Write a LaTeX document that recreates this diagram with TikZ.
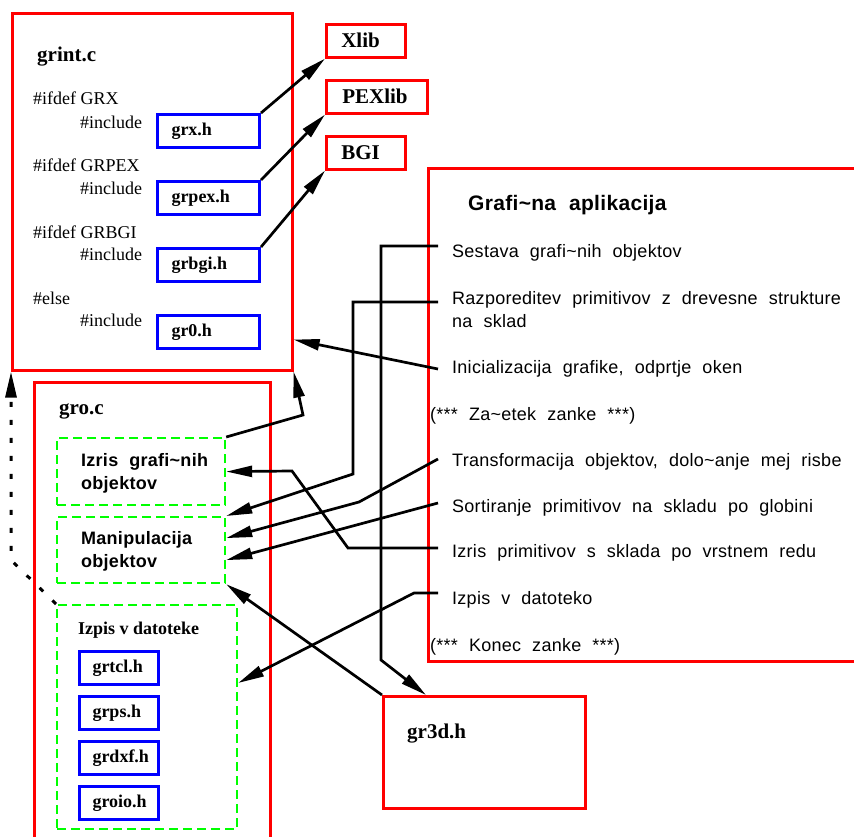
\documentclass[tikz,border=0pt]{standalone}
\usepackage{fontspec}
\setmainfont{Liberation Serif}
\newfontfamily\appfont[WordSpace=2.1,LetterSpace=1.5]{Liberation Sans}
\usepackage{tikz}
\usetikzlibrary{arrows.meta}
\usepackage{xcolor}

\begin{document}
\begin{tikzpicture}[x=1pt,y=-1pt,
    redbox/.style={draw=red, line width=2.6pt, anchor=north west, inner sep=0pt},
    libbox/.style={draw=red, line width=2.6pt, anchor=north west, minimum height=33pt, align=left, font=\fontsize{21}{24}\selectfont\bfseries},
    filebox/.style={draw=blue, line width=3pt, anchor=north west, minimum height=33pt, align=left, font=\fontsize{18}{20}\selectfont\bfseries},
    partbox/.style={draw=green, line width=2.2pt, dash pattern=on 9pt off 5pt, anchor=north west, inner sep=0pt},
    code/.style={anchor=base west, inner sep=0pt, font=\fontsize{18}{20}\selectfont},
    title/.style={anchor=base west, inner sep=0pt, font=\fontsize{21}{24}\selectfont\bfseries},
    apptext/.style={anchor=base west, inner sep=0pt, align=left, font=\appfont\fontsize{18}{22.4}\selectfont},
    parttext/.style={anchor=base west, inner sep=0pt, align=left, font=\appfont\bfseries\fontsize{18}{23}\selectfont},
    link/.style={line width=2.7pt, -{Triangle[length=26pt,width=11pt]}},
    dotted link/.style={line width=3pt, dash pattern=on 5pt off 13pt, -{Triangle[length=26pt,width=11pt]}},
]
    \useasboundingbox (0,0) rectangle (854,836);
    \clip (0,0) rectangle (854,836);

    \node[redbox, minimum width=280pt, minimum height=357pt] (grint) at (11,12) {};
    \node[redbox, minimum width=236pt, minimum height=480pt] (gro) at (33,381) {};
    \node[redbox, minimum width=460pt, minimum height=493pt] (app) at (427,167) {};
    \node[redbox, minimum width=202pt, minimum height=112pt] (gr3d) at (382,695) {};

    \node[libbox, text width=49pt, inner xsep=15pt] (xlib) at (325,23) {Xlib};
    \node[libbox, text width=69pt, inner xsep=16pt] (pexlib) at (325,79) {PEXlib};
    \node[libbox, text width=49pt, inner xsep=15pt] (bgi) at (325,135) {BGI};

    \node[title] (grinttitle) at (37,61) {grint.c};
    \node[code] (ifgrx) at (33,104) {\#ifdef GRX};
    \node[code] (incgrx) at (80,128) {\#include};
    \node[code] (ifgrpex) at (33,171) {\#ifdef GRPEX};
    \node[code] (incgrpex) at (80,194) {\#include};
    \node[code] (ifgrbgi) at (33,238) {\#ifdef GRBGI};
    \node[code] (incgrbgi) at (80,260) {\#include};
    \node[code] (ifelse) at (33,304) {\#else};
    \node[code] (incgr0) at (80,326) {\#include};

    \node[filebox, text width=74pt, inner xsep=14pt] (grx) at (156,113) {grx.h};
    \node[filebox, text width=74pt, inner xsep=14pt] (grpex) at (156,180) {grpex.h};
    \node[filebox, text width=74pt, inner xsep=14pt] (grbgi) at (156,247) {grbgi.h};
    \node[filebox, text width=74pt, inner xsep=14pt] (gr0) at (156,314) {gr0.h};

    \node[title] (grotitle) at (59,414) {gro.c};
    \node[partbox, minimum width=168pt, minimum height=67pt] (izris) at (56,437) {};
    \node[partbox, minimum width=168pt, minimum height=66pt] (manip) at (56,516) {};
    \node[partbox, minimum width=180pt, minimum height=224pt] (izpis) at (56,604) {};
    \node[parttext] (izristext) at (81,489) {Izris grafi\textasciitilde nih\\objektov};
    \node[parttext] (maniptext) at (81,567) {Manipulacija\\objektov};
    \node[code, font=\fontsize{18}{20}\selectfont\bfseries] (izpistext) at (78,634) {Izpis v datoteke};

    \node[filebox, text width=53pt, inner xsep=13pt] (grtcl) at (78,650) {grtcl.h};
    \node[filebox, text width=53pt, inner xsep=13pt] (grps) at (78,695) {grps.h};
    \node[filebox, text width=53pt, inner xsep=13pt] (grdxf) at (78,740) {grdxf.h};
    \node[filebox, text width=53pt, inner xsep=13pt] (groio) at (78,785) {groio.h};

    \node[title] (gr3dtitle) at (407,738) {gr3d.h};

    \node[apptext, font=\appfont\bfseries\fontsize{21}{24}\selectfont] (apptitle) at (468,210) {Grafi\textasciitilde na aplikacija};
    \node[apptext] (sestava) at (452,257) {Sestava grafi\textasciitilde nih objektov};
    \node[apptext] (razpored) at (452,327) {Razporeditev primitivov z drevesne strukture\\na sklad};
    \node[apptext] (inicial) at (452,373) {Inicializacija grafike, odprtje oken};
    \node[apptext] (zacetek) at (430,420) {(*** Za\textasciitilde etek zanke ***)};
    \node[apptext] (transf) at (452,466) {Transformacija objektov, dolo\textasciitilde anje mej risbe};
    \node[apptext] (sort) at (452,512) {Sortiranje primitivov na skladu po globini};
    \node[apptext] (izrisprim) at (452,557) {Izris primitivov s sklada po vrstnem redu};
    \node[apptext] (izpisdat) at (452,604) {Izpis v datoteko};
    \node[apptext] (konec) at (430,651) {(*** Konec zanke ***)};

    \coordinate (sestavaend) at (438,246);
    \coordinate (razporedend) at (438,302);
    \coordinate (inicialend) at (438,369);
    \coordinate (transfend) at (438,459);
    \coordinate (sortend) at (438,503);
    \coordinate (izrisprimend) at (438,548);
    \coordinate (izpisdatend) at (438,593);

    \draw[link] (grx.north east) -- (xlib.south west);
    \draw[link] (grpex.north east) -- (pexlib.south west);
    \draw[link] (grbgi.north east) -- (bgi.south west);

    \draw[link] (sestavaend) -- (381,246) -- (381,660) -- ([xshift=44pt]gr3d.north west);
    \draw[link] (razporedend) -- (353,302) -- (353,474) -- (manip.north east);
    \draw[link] (inicialend) -- ([yshift=32pt]grint.south east);
    \draw[link] (transfend) -- (359,502) -- ([yshift=12pt]manip.east);
    \draw[link] (sortend) -- ([yshift=-10pt]manip.east);
    \draw[link] (izrisprimend) -- (348,548) -- (292,471) -- (izris.east);
    \draw[link] (izpisdatend) -- (414,593) -- ([yshift=-79pt]izpis.north east);
    \draw[link] (gr3d.north west) -- (manip.south east);
    \draw[link] (izris.north east) -- (303,415) -- (grint.south east);
    \draw[dotted link] (izpis.north west) -- (11,560) -- (grint.south west);
\end{tikzpicture}
\end{document}
